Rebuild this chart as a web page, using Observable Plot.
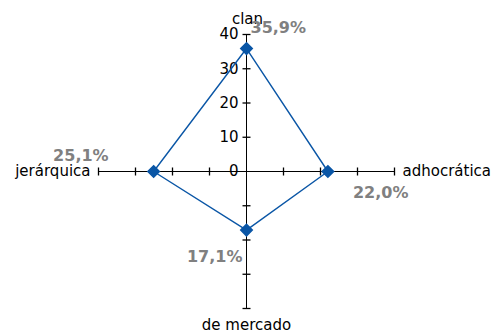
<!DOCTYPE html>
<html>
<head>
<meta charset="utf-8">
<script src="https://cdn.jsdelivr.net/npm/d3@7"></script>
<script src="https://cdn.jsdelivr.net/npm/@observablehq/plot@0.6"></script>
<style>
  html, body { margin: 0; padding: 0; background: #fff; }
  #chart svg { display: block; }
</style>
</head>
<body>
<div id="chart"></div>
<script>
const categories = ["clan", "adhocrática", "de mercado", "jerárquica"];
const values = [35.9, 22.0, 17.1, 25.1];
const valueLabels = ["35,9%", "22,0%", "17,1%", "25,1%"];
const axisTicks = [-40, -30, -20, -10, 10, 20, 30, 40];
const tickLabels = [0, 10, 20, 30, 40];
const axisMax = 40;

// polar -> cartesian: clan up, adhocrática right, de mercado down, jerárquica left
const pts = categories.map((c, i) => {
  const a = i * Math.PI / 2;
  return {
    cat: c,
    v: values[i],
    label: valueLabels[i],
    x: Math.round(values[i] * Math.sin(a) * 1000) / 1000,
    y: Math.round(values[i] * Math.cos(a) * 1000) / 1000,
    ex: Math.round(axisMax * Math.sin(a)),
    ey: Math.round(axisMax * Math.cos(a))
  };
});
const closed = [...pts, pts[0]];

const blue = "#0a56a6";
const font = "DejaVu Sans, Verdana, sans-serif";

const labelOffsets = [
  {textAnchor: "start", dx: 4, dy: -16},
  {textAnchor: "start", dx: 25, dy: 26},
  {textAnchor: "end", dx: -4, dy: 32},
  {textAnchor: "end", dx: -45, dy: -11}
];
const catOffsets = [
  {textAnchor: "middle", lineAnchor: "bottom", dx: 1, dy: -11},
  {textAnchor: "start", lineAnchor: "middle", dx: 8, dy: 0},
  {textAnchor: "middle", lineAnchor: "bottom", dx: 0, dy: 21},
  {textAnchor: "end", lineAnchor: "middle", dx: -8, dy: 0}
];

const chart = Plot.plot({
  width: 491,
  height: 333,
  marginLeft: 98,
  marginRight: 97,
  marginTop: 34,
  marginBottom: 25,
  style: {fontFamily: font, background: "#fff"},
  x: {domain: [-axisMax, axisMax], axis: null},
  y: {domain: [-axisMax, axisMax], axis: null},
  marks: [
    // axes
    Plot.link([0], {x1: 0, x2: 0, y1: -axisMax, y2: axisMax, stroke: "#000", strokeWidth: 1}),
    Plot.link([0], {x1: -axisMax, x2: axisMax, y1: 0, y2: 0, stroke: "#000", strokeWidth: 1}),
    // tick marks on vertical axis
    Plot.link(axisTicks, {x1: -1.08, x2: 1.08, y1: d => d, y2: d => d, stroke: "#000", strokeWidth: 1.3}),
    // tick marks on horizontal axis
    Plot.link(axisTicks, {x1: d => d, x2: d => d, y1: -1.17, y2: 1.17, stroke: "#000", strokeWidth: 1.3}),
    // tick labels
    Plot.text(tickLabels, {x: 0, y: d => d, text: d => String(d), textAnchor: "end", dx: -8, fontSize: 15, fill: "#000"}),
    // data polygon
    Plot.line(closed, {x: "x", y: "y", stroke: blue, strokeWidth: 1.4, curve: "linear"}),
    Plot.dot(pts, {x: "x", y: "y", symbol: "diamond2", r: 5.2, fill: blue, stroke: blue}),
    // category labels
    ...pts.map((p, i) => Plot.text([p], {x: "ex", y: "ey", text: "cat", fontSize: 15, fill: "#000", ...catOffsets[i]})),
    // value labels
    ...pts.map((p, i) => Plot.text([p], {x: "x", y: "y", text: "label", fontSize: 16, fontWeight: "bold", fill: "#808080", lineAnchor: "bottom", ...labelOffsets[i]}))
  ]
});
document.getElementById("chart").appendChild(chart);
</script>
</body>
</html>
